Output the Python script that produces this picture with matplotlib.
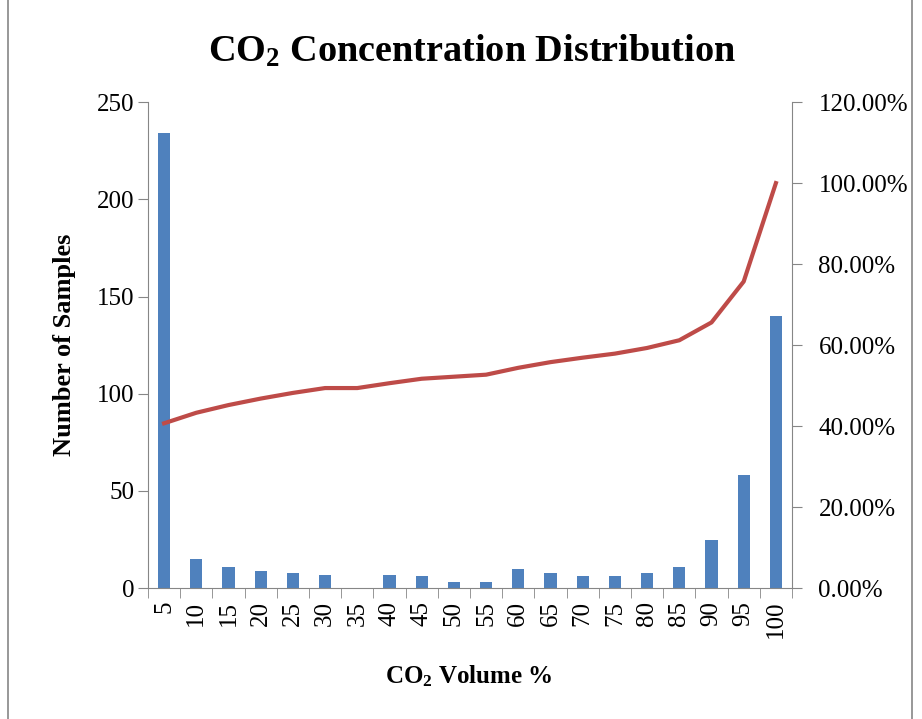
import matplotlib.pyplot as plt
from matplotlib.patches import Rectangle
import numpy as np

plt.rcParams['font.family'] = ['Liberation Serif', 'DejaVu Serif']
plt.rcParams['mathtext.default'] = 'regular'

categories = ["5", "10", "15", "20", "25", "30", "35", "40", "45", "50",
              "55", "60", "65", "70", "75", "80", "85", "90", "95", "100"]
samples = [234, 15, 11, 9, 8, 7, 0, 7, 6, 3, 3, 10, 8, 6, 6, 8, 11, 25, 58, 140]
cumulative_pct = [40.7, 43.3, 45.2, 46.8, 48.2, 49.4, 49.4, 50.6, 51.7, 52.2,
                  52.7, 54.4, 55.8, 56.9, 57.9, 59.3, 61.2, 65.6, 75.7, 100.0]

fig = plt.figure(figsize=(9.22, 7.19), dpi=100)
ax = fig.add_axes([0.1605, 0.182, 0.6985, 0.676])
x = np.arange(len(categories))

ax.bar(x, samples, width=0.38, color="#4F81BD", zorder=2)
ax.set_xlim(-0.5, len(categories) - 0.5)
ax.set_ylim(0, 250)
ax.set_yticks(range(0, 251, 50))
ax.set_xticks(x)
ax.set_xticklabels(categories, rotation=90, fontsize=18)
ax.set_xticks(np.arange(-0.5, len(categories), 1), minor=True)
ax.tick_params(axis="x", which="major", length=0, pad=9)
ax.tick_params(axis="x", which="minor", length=7, color="#868686", direction="out")
ax.tick_params(axis="y", labelsize=18, length=7, color="#868686", direction="out", pad=3)

ax2 = ax.twinx()
ax2.plot(x, cumulative_pct, color="#BE4B48", linewidth=3, zorder=3)
ax2.set_ylim(0, 120)
ax2.set_yticks(range(0, 121, 20))
ax2.set_yticklabels([f"{v:.2f}%" for v in range(0, 121, 20)])
ax2.tick_params(axis="y", labelsize=18, length=7, color="#868686", direction="out", pad=12)

for a in (ax, ax2):
    a.spines["top"].set_visible(False)
    for s in ("left", "right", "bottom"):
        a.spines[s].set_color("#868686")
ax.spines["right"].set_visible(False)
ax2.spines["left"].set_visible(False)
ax2.spines["bottom"].set_visible(False)

ax.set_ylabel("Number of Samples", fontsize=19, fontweight="bold", labelpad=15)
fig.text(0.508, 0.06, "CO$_2$ Volume %", fontsize=18, fontweight="bold",
         ha="center", va="center")
fig.text(0.512, 0.929, "CO$_2$ Concentration Distribution", fontsize=27.5,
         fontweight="bold", ha="center", va="center")

fig.patches.append(Rectangle((0.009, -0.01), 0.98, 1.02, transform=fig.transFigure,
                             fill=False, edgecolor="#868686", linewidth=1.2))

fig.savefig("out.png", dpi=100)
